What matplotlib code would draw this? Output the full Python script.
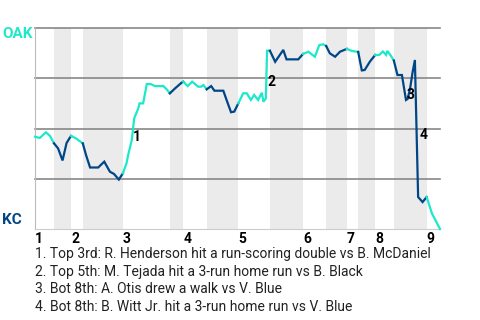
import matplotlib
matplotlib.use('Agg')
import matplotlib.pyplot as plt

plt.rcParams['font.family'] = ['Roboto', 'DejaVu Sans']

OAK_COLOR = '#1de9c9'
KC_COLOR = '#004687'

# game progress (0-100) and OAK win probability at each turn of the line
progress = [0, 1.2, 2.7, 3.7, 4.7,
            5.7, 6.8, 7.8, 8.5, 8.9,
            10.1, 11.8,
            12.6, 13.6, 15.6, 17.1, 18.5, 19.5, 20.7, 21.7,
            22.6, 23.0, 23.9, 24.5, 25.5, 25.8, 26.7, 27.6, 28.6, 29.6, 31.7, 32.5, 33.3,
            34.6, 36.2, 36.6,
            37.7, 38.8, 40.3, 41.0, 41.6, 42.4,
            43.5, 44.3, 46.5, 47.3, 48.4, 49.2, 50.2,
            51.4, 52.3, 53.3, 54.1, 55.1, 56.0, 56.4, 57.0, 57.3, 58.0,
            59.3, 61.3, 62.1, 65.0, 66.2,
            67.5, 69.1, 70.2, 71.2, 71.9,
            72.8, 74.1, 75.3, 77.0,
            78.2, 79.8,
            80.7, 81.4, 82.7, 84.0,
            85.0, 85.9, 86.7, 87.0, 87.9, 88.6,
            89.5, 90.6, 91.6, 92.0, 92.6, 93.2, 93.8, 94.6, 95.7, 96.7,
            98.0, 100]
oak_wp = [0.459, 0.453, 0.481, 0.463, 0.426,
          0.401, 0.341, 0.428, 0.451, 0.463,
          0.451, 0.426,
          0.368, 0.306, 0.306, 0.335, 0.285, 0.274, 0.246, 0.277,
          0.327, 0.368, 0.443, 0.551, 0.600, 0.625, 0.625, 0.721, 0.721, 0.711, 0.711, 0.695, 0.675,
          0.700, 0.728, 0.733,
          0.711, 0.733, 0.708, 0.708, 0.716, 0.695,
          0.711, 0.688, 0.688, 0.642, 0.581, 0.584, 0.625,
          0.675, 0.675, 0.642, 0.667, 0.642, 0.678, 0.633, 0.650, 0.887, 0.887,
          0.832, 0.891, 0.844, 0.844, 0.871,
          0.882, 0.857, 0.915, 0.919, 0.910,
          0.874, 0.857, 0.882, 0.896,
          0.886, 0.881,
          0.789, 0.791, 0.833, 0.866,
          0.866, 0.883, 0.866, 0.886, 0.861, 0.838,
          0.766, 0.766, 0.642, 0.647, 0.697, 0.776, 0.841, 0.159, 0.134, 0.159,
          0.078, 0.0]

# start of each half inning (top 1, bot 1, ... top 9) and end of game
half_starts = [0, 4.7, 8.9, 11.8, 21.7, 33.3, 36.6, 42.4, 50.2, 58.0,
               66.2, 71.9, 77.0, 79.8, 84.0, 88.6, 96.7, 100]
innings = ['1', '2', '3', '4', '5', '6', '7', '8', '9']

notes = ['1. Top 3rd: R. Henderson hit a run-scoring double vs B. McDaniel',
         '2. Top 5th: M. Tejada hit a 3-run home run vs B. Black',
         '3. Bot 8th: A. Otis drew a walk vs V. Blue',
         '4. Bot 8th: B. Witt Jr. hit a 3-run home run vs V. Blue']
# where the event numbers sit on the chart
note_x = [25.2, 58.3, 92.8, 96.0]
note_y = [0.458, 0.731, 0.667, 0.468]

fig = plt.figure(figsize=(4.8, 3.2), dpi=100)
ax = fig.add_axes([35 / 480, 91 / 320, 405 / 480, 201 / 320])

# bottom halves shaded
for i in range(1, len(half_starts) - 1, 2):
    ax.axvspan(half_starts[i], half_starts[i + 1], color='#ebebeb', lw=0, zorder=0)

for v in [0.25, 0.5, 0.75, 1.0]:
    ax.axhline(v, color='#888888', lw=1.2, zorder=1, clip_on=False)

# line coloured by batting team
for i in range(len(half_starts) - 1):
    lo, hi = half_starts[i], half_starts[i + 1]
    xs = [x for x in progress if lo <= x <= hi]
    ys = [y for x, y in zip(progress, oak_wp) if lo <= x <= hi]
    ax.plot(xs, ys, color=OAK_COLOR if i % 2 == 0 else KC_COLOR,
            lw=1.6, zorder=3, solid_joinstyle='miter', clip_on=False)

for k, lab in enumerate(innings):
    ax.text(half_starts[2 * k], -0.015, lab, ha='left', va='top',
            fontsize=10, fontweight='bold', color='black')

for k in range(len(notes)):
    ax.text(note_x[k], note_y[k], str(k + 1), ha='center', va='center',
            fontsize=10, fontweight='bold', color='black', zorder=4)

ax.set_xlim(0, 100)
ax.set_ylim(0, 1)
ax.set_xticks([])
ax.set_yticks([])
for s in ['top', 'right']:
    ax.spines[s].set_visible(False)
ax.spines['left'].set_color('#bbbbbb')
ax.spines['bottom'].set_color('#cccccc')

fig.text(2 / 480, 1 - 34 / 320, 'OAK', color=OAK_COLOR, fontsize=11,
         fontweight='bold', va='center', ha='left')
fig.text(2 / 480, 1 - 219.5 / 320, 'KC', color=KC_COLOR, fontsize=11,
         fontweight='bold', va='center', ha='left')

for k, note in enumerate(notes):
    fig.text(35 / 480, 1 - (258.3 + 17.5 * k) / 320, note, fontsize=10,
             color='#222222', va='baseline', ha='left')

fig.savefig('out.png', dpi=100)
